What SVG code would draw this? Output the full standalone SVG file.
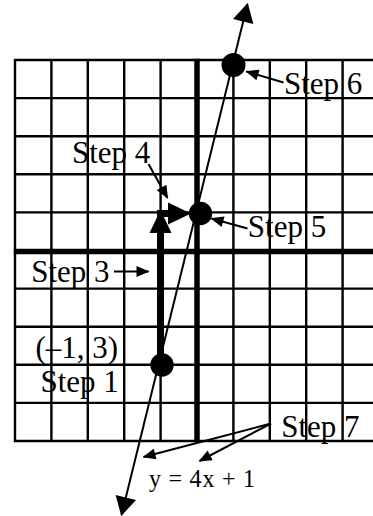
<svg xmlns="http://www.w3.org/2000/svg" width="373" height="516" viewBox="0 0 373 516">
<style>
.g{stroke:#000;stroke-width:2.4;fill:none}
.ax{stroke:#000;stroke-width:5.5;fill:none}
.t{font-family:"Liberation Serif","Times New Roman",serif;font-size:31px;fill:#000}
.eq{font-family:"Liberation Serif","Times New Roman",serif;font-size:24px;fill:#000}
.ln{stroke:#000;stroke-width:2;fill:none}
.ptr{stroke:#000;stroke-width:2;fill:none;marker-end:url(#sm)}
.thick{stroke:#000;stroke-width:7;fill:none;marker-end:url(#bg)}
.dot{fill:#000}
</style>
<defs>
<marker id="sm" markerUnits="userSpaceOnUse" viewBox="0 0 13 11" markerWidth="13" markerHeight="11" refX="12" refY="5.5" orient="auto" overflow="visible"><path d="M0,0 L13,5.5 L0,11 z" fill="#000"/></marker>
<marker id="lg" markerUnits="userSpaceOnUse" viewBox="0 0 19 21" markerWidth="19" markerHeight="21" refX="18" refY="10.5" orient="auto-start-reverse" overflow="visible"><path d="M0,0 L19,10.5 L0,21 z" fill="#000"/></marker>
<marker id="bg" markerUnits="userSpaceOnUse" viewBox="0 0 23 22" markerWidth="23" markerHeight="22" refX="0" refY="11" orient="auto" overflow="visible"><path d="M0,0 L23,11 L0,22 z" fill="#000"/></marker>
</defs>
<g id="grid">
<path class="g" d="M15,58.8V442.2 M51.4,58.8V442.2 M87.8,58.8V442.2 M124.2,58.8V442.2 M160.6,58.8V442.2 M233.4,58.8V442.2 M269.8,58.8V442.2 M306.2,58.8V442.2 M342.6,58.8V442.2 M13.8,60H373 M13.8,98.1H373 M13.8,136.2H373 M13.8,174.3H373 M13.8,212.4H373 M13.8,288.6H373 M13.8,326.7H373 M13.8,364.8H373 M13.8,402.9H373 M13.8,441H373"/>
<path class="ax" d="M197,58.8V442.2 M13.8,251.5H373"/>
</g>
<g id="connectors">
<line id="graph-line" class="ln" x1="247.5" y1="4" x2="121.5" y2="515" marker-start="url(#lg)" marker-end="url(#lg)"/>
<line id="step3-rise" class="thick" x1="160.5" y1="366" x2="160.5" y2="233"/>
<line id="step4-run" class="thick" x1="157" y1="213.5" x2="168" y2="213.5"/>
<line class="ptr" x1="148.5" y1="164" x2="167.5" y2="198"/>
<line class="ptr" x1="247.5" y1="228.5" x2="211.5" y2="218.5"/>
<line class="ptr" x1="283.5" y1="82.5" x2="246.5" y2="71.5"/>
<line class="ptr" x1="114" y1="271.5" x2="148.5" y2="271.5"/>
<line class="ptr" x1="271" y1="423.5" x2="143.5" y2="457"/>
<line class="ptr" x1="271" y1="423.5" x2="199.5" y2="461"/>
</g>
<g id="point-step1"><circle class="dot" cx="162" cy="365" r="11.7"/></g>
<g id="point-step5"><circle class="dot" cx="200.5" cy="213.5" r="11.7"/></g>
<g id="point-step6"><circle class="dot" cx="233.5" cy="65" r="12"/></g>
<g id="label-step6"><text class="t" transform="translate(284 94) scale(1 1.05)">Step 6</text></g>
<g id="label-step4"><text class="t" transform="translate(72 163.3) scale(1 1.05)">Step 4</text></g>
<g id="label-step5"><text class="t" transform="translate(247.8 236.7) scale(1 1.05)">Step 5</text></g>
<g id="label-step3"><text class="t" transform="translate(31.2 282) scale(1 1.05)">Step 3</text></g>
<g id="label-point"><text class="t" transform="translate(35.5 358) scale(1 1.05)">(–1, 3)</text></g>
<g id="label-step1"><text class="t" transform="translate(40.5 391.7) scale(1 1.05)">Step 1</text></g>
<g id="label-step7"><text class="t" transform="translate(281.2 436.7) scale(1 1.05)">Step 7</text></g>
<g id="label-equation"><text class="eq" transform="translate(149 486.7) scale(1 1.05)" textLength="106" lengthAdjust="spacing">y = 4x + 1</text></g>
</svg>
